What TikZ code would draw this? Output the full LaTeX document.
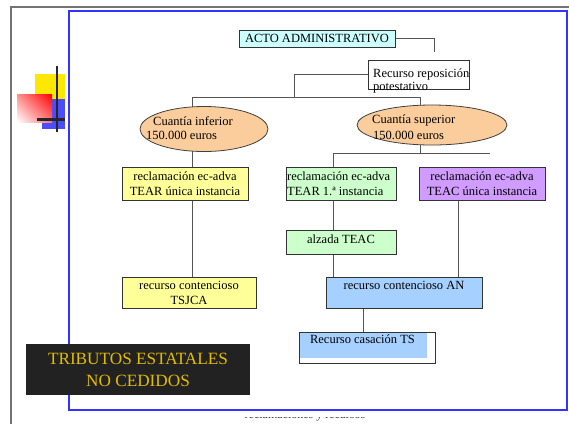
\documentclass[tikz,border=0pt]{standalone}
\usepackage{fontspec}
\setmainfont{Liberation Serif}
\usetikzlibrary{shapes.geometric,shadings}
\pgfdeclarelayer{bg}
\pgfdeclarelayer{paper}
\pgfsetlayers{paper,bg,main}
\definecolor{cyanbox}{HTML}{CCFFFF}
\definecolor{peach}{HTML}{FBCC9C}
\definecolor{yelbox}{HTML}{FFFF99}
\definecolor{grnbox}{HTML}{CCFFCC}
\definecolor{purbox}{HTML}{D09CFF}
\definecolor{blubox}{HTML}{A6D0FF}
\definecolor{frameblue}{HTML}{3333FF}
\definecolor{gold}{HTML}{E3BC00}
\definecolor{darkbox}{HTML}{222222}
\definecolor{conn}{HTML}{555555}
\tikzset{
  boxst/.style={draw=black!80, line width=0.8pt, inner sep=0pt, align=center,
    font=\fontsize{12.5}{15}\selectfont},
  ellst/.style={ellipse, draw=black!75, line width=0.8pt, fill=peach, inner sep=0pt},
  txt/.style={inner sep=0pt, font=\fontsize{12.5}{15}\selectfont, align=left},
  connst/.style={draw=conn, line width=0.8pt},
}
\begin{document}
\begin{tikzpicture}[x=1pt,y=-1pt]
\useasboundingbox (0,0) rectangle (569,424);
\begin{pgfonlayer}{paper}
\fill[white] (0,0) rectangle (569,424);
\end{pgfonlayer}
% outer page frame
\draw[black!55, line width=1.8pt] (11,424) -- (11,7) -- (569,7);
% bottom cut caption
\begin{scope}
\clip (200,417.6) rectangle (400,424);
\node[inner sep=0pt, anchor=base, font=\fontsize{12}{14}\selectfont, text=black!80] (cap) at (305,418.8) {reclamaciones y recursos};
\end{scope}
% blue frame
\draw[frameblue, line width=2.6pt] (69,11) rectangle (567,410);
% logo
\fill[yellow!90!orange] (35,74) rectangle (65,100);
\fill[blue!70!white] (42,99) rectangle (65,129);
\shade[upper right=red, lower left=white, upper left=red!45!white, lower right=red!55!white] (17,94) rectangle (52,122);
\draw[black!85, line width=2pt] (57,66) -- (57,132);
\draw[black!85, line width=3pt] (37,119) -- (65,119);

% nodes
\node[boxst, fill=cyanbox, minimum width=156pt, minimum height=17pt] (acto) at (317,38.5) {ACTO ADMINISTRATIVO};
\node[boxst, fill=white, minimum width=101pt, minimum height=29pt] (rep) at (418.5,74.5) {};
\node[txt, anchor=west] (reptxt) at (373,74) {Recurso reposición};
\node[txt, anchor=west] (reptxt2) at (373,88) {potestativo};

\node[ellst, minimum width=128pt, minimum height=45pt] (ell1) at (204,129) {};
\node[txt, anchor=west] (e1a) at (153,121) {Cuantía inferior};
\node[txt, anchor=west] (e1b) at (146,135.5) {150.000 euros};
\node[ellst, minimum width=150pt, minimum height=40pt] (ell2) at (432,125) {};
\node[txt, anchor=west] (e2a) at (372,120) {Cuantía superior};
\node[txt, anchor=west] (e2b) at (373,135) {150.000 euros};

\node[boxst, fill=yelbox, minimum width=126pt, minimum height=33pt] (y1) at (185,183.5) {reclamación ec-adva\\TEAR única instancia};
\node[boxst, fill=grnbox, minimum width=110pt, minimum height=33pt] (g1) at (341,183.5) {};
\node[txt, anchor=west] (g1a) at (287,176.5) {reclamación ec-adva};
\node[txt, anchor=west] (g1b) at (287,191) {TEAR 1.ª instancia};
\node[boxst, fill=purbox, minimum width=126pt, minimum height=33pt] (p1) at (482,183.5) {reclamación ec-adva\\TEAC única instancia};
\node[boxst, fill=grnbox, minimum width=110pt, minimum height=24pt] (alz) at (341,242) {};
\node[txt] (alzt) at (341,239) {alzada TEAC};
\node[boxst, fill=yelbox, minimum width=134pt, minimum height=31pt] (ts) at (189,292.5) {recurso contencioso\\TSJCA};
\node[boxst, fill=blubox, minimum width=156pt, minimum height=31pt] (an) at (404,292.5) {};
\node[txt] (ant) at (404,285) {recurso contencioso AN};
\fill[white] (299,332) rectangle (435,363);
\fill[blubox] (299,332) rectangle (427,358);
\node[boxst, minimum width=136pt, minimum height=31pt] (cas) at (367,347.5) {};
\node[txt] (cast) at (362.5,339) {Recurso casación TS};

\node[fill=darkbox, text=gold, inner sep=0pt, minimum width=224pt, minimum height=51pt,
  align=center, font=\fontsize{17.2}{22}\selectfont] (trib) at (138,369.5) {TRIBUTOS ESTATALES\\NO CEDIDOS};

% connectors
\begin{pgfonlayer}{bg}
\coordinate (a1) at (434,52);
\coordinate (j1) at (294,97);
\coordinate (h1L) at (192,97);
\coordinate (h1R) at (420,97);
\coordinate (h2L) at (333,153);
\coordinate (h2R) at (490,153);
\coordinate (vP) at (458,0);
\coordinate (vA) at (363,0);
\draw[connst] (acto.east) -| (a1);
\draw[connst] (rep.west) -| (j1);
\draw[connst] (h1L) -- (h1R);
\draw[connst] (h1L) -- (h1L |- y1.north);
\draw[connst] (h1R) -- (h1R |- h2L);
\draw[connst] (h2L) -- (h2R);
\draw[connst] (h2L) -- (h2L |- g1.north);
\draw[connst] (h1L |- y1.south) -- (h1L |- ts.north);
\draw[connst] (h2L |- g1.south) -- (h2L |- alz.north);
\draw[connst] (h2L |- alz.south) -- (h2L |- an.north);
\draw[connst] (vP |- p1.south) -- (vP |- an.north);
\draw[connst] (vA |- an.south) -- (vA |- cas.north);
\end{pgfonlayer}
\end{tikzpicture}
\end{document}
